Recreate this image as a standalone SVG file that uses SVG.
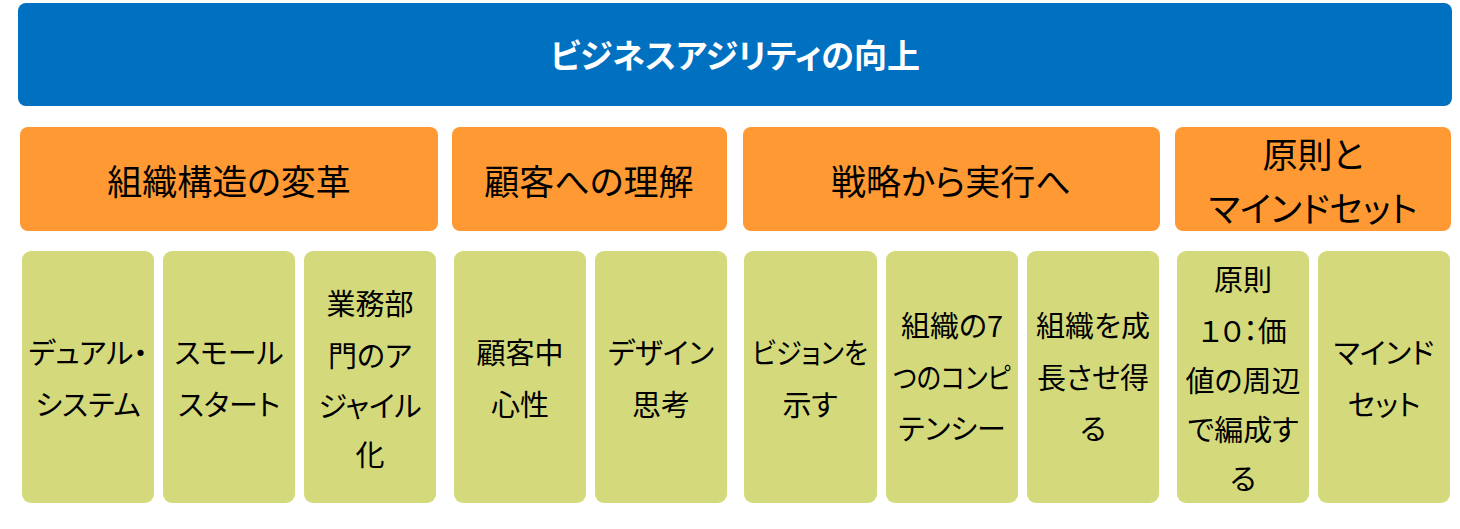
<svg xmlns="http://www.w3.org/2000/svg" width="1460" height="529" viewBox="0 0 1460 529">
<style>
text{font-family:"Noto Sans CJK JP","Noto Sans",sans-serif;text-anchor:middle;dominant-baseline:central;font-feature-settings:"palt";}
.blue{fill:#0070C0;}
.orange{fill:#FF9933;}
.green{fill:#D4DA7B;}
.ht{fill:#FFFFFF;font-size:33px;font-weight:bold;}
.ot{fill:#000000;font-size:35px;}
.gt{fill:#000000;font-size:29px;}
</style>
<rect width="1460" height="529" fill="#FFFFFF"/>
<g id="connectors"/>
<g id="header">
<rect class="blue" x="18" y="3" width="1434" height="103" rx="8"/>
<text class="ht" x="735" y="54">ビジネスアジリティの向上</text>
</g>
<g id="cat1">
<rect class="orange" x="20" y="127" width="418" height="104" rx="8"/>
<text class="ot" x="229" y="179">組織構造の変革</text>
</g>
<g id="cat2">
<rect class="orange" x="452" y="127" width="275" height="104" rx="8"/>
<text class="ot" x="589" y="179">顧客への理解</text>
</g>
<g id="cat3">
<rect class="orange" x="743" y="127" width="417" height="104" rx="8"/>
<text class="ot" x="951" y="179">戦略から実行へ</text>
</g>
<g id="cat4">
<rect class="orange" x="1175" y="127" width="276" height="104" rx="8"/>
<text class="ot" x="1313" y="152">原則と</text>
<text class="ot" x="1313" y="206">マインドセット</text>
</g>
<g id="item1">
<rect class="green" x="22" y="251" width="132" height="252" rx="9"/>
<text class="gt" x="88" y="351">デュアル・</text>
<text class="gt" x="88" y="403">システム</text>
</g>
<g id="item2">
<rect class="green" x="163" y="251" width="132" height="252" rx="9"/>
<text class="gt" x="229" y="351">スモール</text>
<text class="gt" x="229" y="403">スタート</text>
</g>
<g id="item3">
<rect class="green" x="304" y="251" width="132" height="252" rx="9"/>
<text class="gt" x="370" y="302">業務部</text>
<text class="gt" x="370" y="354">門のア</text>
<text class="gt" x="370" y="404">ジャイル</text>
<text class="gt" x="370" y="453">化</text>
</g>
<g id="item4">
<rect class="green" x="454" y="251" width="132" height="252" rx="9"/>
<text class="gt" x="520" y="351">顧客中</text>
<text class="gt" x="520" y="403">心性</text>
</g>
<g id="item5">
<rect class="green" x="595" y="251" width="132" height="252" rx="9"/>
<text class="gt" x="661" y="351">デザイン</text>
<text class="gt" x="661" y="403">思考</text>
</g>
<g id="item6">
<rect class="green" x="744" y="251" width="133" height="252" rx="9"/>
<text class="gt" x="810" y="351" textLength="116" lengthAdjust="spacingAndGlyphs">ビジョンを</text>
<text class="gt" x="810" y="403">示す</text>
</g>
<g id="item7">
<rect class="green" x="886" y="251" width="132" height="252" rx="9"/>
<text class="gt" x="952" y="324">組織の7</text>
<text class="gt" x="952" y="376" textLength="118" lengthAdjust="spacingAndGlyphs">つのコンピ</text>
<text class="gt" x="952" y="427">テンシー</text>
</g>
<g id="item8">
<rect class="green" x="1027" y="251" width="132" height="252" rx="9"/>
<text class="gt" x="1093" y="324">組織を成</text>
<text class="gt" x="1093" y="376">長させ得</text>
<text class="gt" x="1093" y="427">る</text>
</g>
<g id="item9">
<rect class="green" x="1177" y="251" width="132" height="252" rx="9"/>
<text class="gt" x="1243" y="278">原則</text>
<text class="gt" x="1243" y="329">１０：価</text>
<text class="gt" x="1243" y="379">値の周辺</text>
<text class="gt" x="1243" y="428">で編成す</text>
<text class="gt" x="1243" y="477">る</text>
</g>
<g id="item10">
<rect class="green" x="1318" y="251" width="132" height="252" rx="9"/>
<text class="gt" x="1384" y="351">マインド</text>
<text class="gt" x="1384" y="403">セット</text>
</g>
</svg>
